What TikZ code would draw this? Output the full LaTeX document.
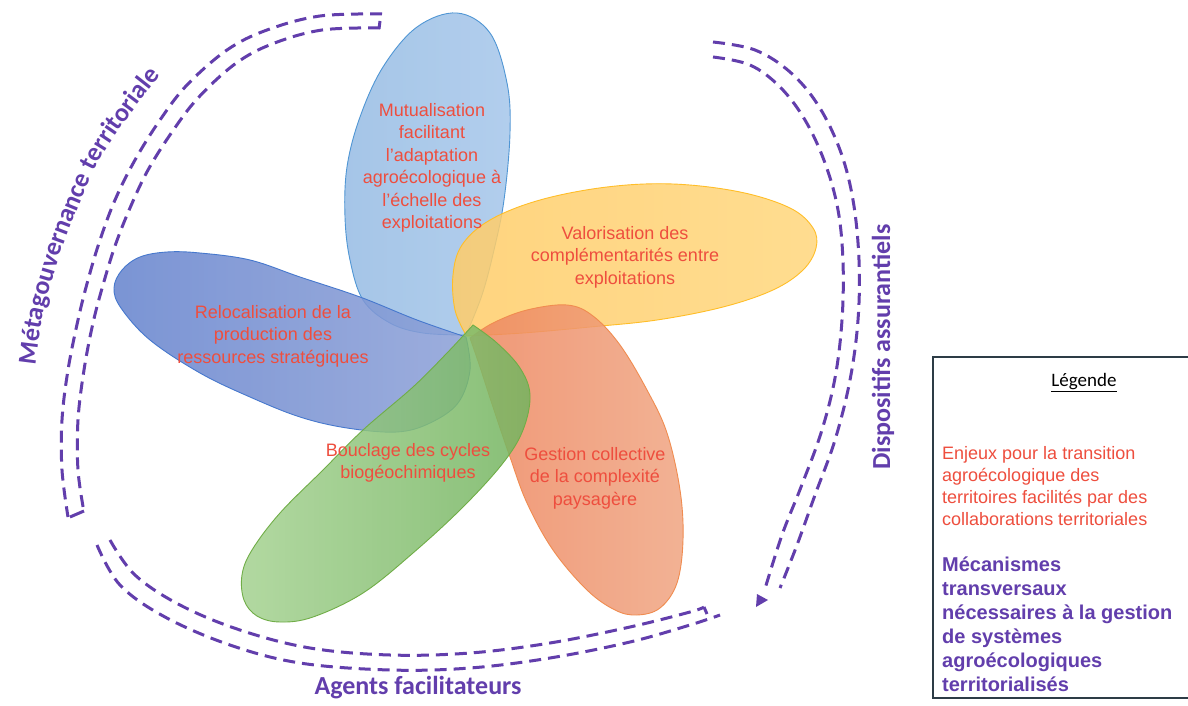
\documentclass[tikz,border=0pt]{standalone}
\usepackage{fontspec}
\setmainfont{Liberation Sans}
\newfontfamily\carl{Carlito}
\usetikzlibrary{decorations.text}
\definecolor{petaltxt}{RGB}{238,78,62}
\definecolor{purp}{RGB}{98,62,172}
\definecolor{bluefill}{RGB}{150,188,228}
\definecolor{bluefillB}{RGB}{165,198,234}
\definecolor{bluedraw}{RGB}{80,150,212}
\definecolor{dblueA}{RGB}{100,130,205}
\definecolor{dblueB}{RGB}{140,160,215}
\definecolor{dbluedraw}{RGB}{70,120,205}
\definecolor{yelA}{RGB}{255,205,105}
\definecolor{yelB}{RGB}{255,215,125}
\definecolor{yeldraw}{RGB}{255,190,40}
\definecolor{orA}{RGB}{238,135,95}
\definecolor{orB}{RGB}{240,165,130}
\definecolor{ordraw}{RGB}{240,140,80}
\definecolor{grA}{RGB}{165,210,145}
\definecolor{grB}{RGB}{115,180,95}
\definecolor{grdraw}{RGB}{112,173,71}
\definecolor{legdraw}{RGB}{45,60,70}
\tikzset{
  petal/.style={line width=0.9pt, fill opacity=0.85, draw opacity=1},
  dashline/.style={draw=purp, line width=3pt, dash pattern=on 12pt off 7pt},
  capline/.style={draw=purp, line width=3pt},
  ptext/.style={text=petaltxt, align=center, inner sep=0pt, font=\fontsize{18}{22.5}\selectfont},
  arclabel/.style={text=purp, inner sep=0pt, font=\carl\bfseries\fontsize{26}{30}\selectfont},
}
\begin{document}
\begin{tikzpicture}[x=1pt,y=-1pt]
\useasboundingbox (0,0) rectangle (1188,706);
\fill[white] (0,0) rectangle (1188,706);

% ---- petals ----
% blue top
\draw[petal, draw=bluedraw, left color=bluefill, right color=bluefillB]
  plot[smooth, tension=0.6] coordinates {(466,335) (423,333) (390,323) (363,300) (350,260) (345,217) (347,167) (360,117) (383,67) (417,27) (457,13) (490,33) (507,83) (510,133) (504,200) (494,250) (482,295) (466,335)} -- cycle;
% dark blue
\draw[petal, draw=dbluedraw, left color=dblueA, right color=dblueB]
  plot[smooth, tension=0.6] coordinates {(466,337) (417,320) (360,297) (300,277) (250,260) (200,253) (167,252) (140,257) (122,270) (114,288) (121,308) (150,340) (200,373) (250,397) (300,417) (347,428) (397,432) (430,423) (458,403) (470,370) (466,337)} -- cycle;
% yellow
\draw[petal, draw=yeldraw, left color=yelA, right color=yelB]
  plot[smooth, tension=0.6] coordinates {(466,335) (455,310) (453,275) (462,245) (490,220) (540,200) (607,187) (673,184) (740,192) (790,208) (813,228) (816,248) (803,270) (773,290) (723,307) (657,320) (590,327) (523,333) (466,336)} -- cycle;
% orange
\draw[petal, draw=ordraw, left color=orA, right color=orB]
  plot[smooth, tension=0.6] coordinates {(470,338) (493,323) (527,310) (567,305) (593,316) (620,345) (647,390) (667,433) (680,490) (683,540) (677,583) (660,608) (637,615) (615,610) (587,590) (553,550) (527,503) (510,457) (493,407) (480,367) (470,338)} -- cycle;
% green
\draw[petal, draw=grdraw, left color=grA, right color=grB]
  plot[smooth, tension=0.6] coordinates {(473,325) (497,343) (520,368) (530,395) (523,430) (503,463) (463,507) (413,553) (363,593) (313,617) (280,622) (257,616) (244,600) (242,575) (252,550) (280,513) (323,470) (363,430) (413,387) (447,353) (473,325)} -- cycle;

% ---- petal texts ----
\node[ptext] (tmut) at (432,168) {Mutualisation\\facilitant\\l'adaptation\\agroécologique à\\l'échelle des\\exploitations};
\node[ptext] (treloc) at (273,336) {Relocalisation de la\\production des\\ressources stratégiques};
\node[ptext] (tval) at (625,257) {Valorisation des\\complémentarités entre\\exploitations};
\node[ptext] (tbouc) at (408,463) {Bouclage des cycles\\biogéochimiques};
\node[ptext] (tgest) at (595,478) {Gestion collective\\de la complexité\\paysagère};

% ---- dashed arcs ----
% top-left
\draw[dashline] plot[smooth, tension=0.6] coordinates {(382,14) (320,16) (267,30) (227,50) (187,85) (160,120) (135,160) (115,200) (100,240) (88,280) (78,320) (68,370) (62,420) (62,470) (68,517)};
\draw[dashline] plot[smooth, tension=0.6] coordinates {(380,28) (322,30) (272,44) (235,64) (198,98) (172,132) (148,170) (130,208) (115,246) (103,285) (93,323) (84,370) (78,420) (78,470) (84,512)};
\coordinate (a1) at (380,21); \coordinate (a2) at (379,29);
\draw[capline] (a1) -- (a2);
\coordinate (b1) at (70,517); \coordinate (b2) at (84,511);
\draw[capline] (b1) -- (b2);
% right
\draw[dashline] plot[smooth, tension=0.6] coordinates {(713,42) (755,50) (790,72) (818,105) (840,150) (853,200) (859,260) (858,320) (850,380) (835,440) (815,495) (797,545) (780,588)};
\draw[dashline] plot[smooth, tension=0.6] coordinates {(713,57) (750,65) (780,87) (805,120) (825,163) (838,210) (843,262) (842,320) (835,378) (821,433) (801,487) (782,535) (764,592)};
\coordinate (c1) at (756,607); \coordinate (c2) at (757,594); \coordinate (c3) at (768,600);
\fill[purp] (c1) -- (c2) -- (c3) -- cycle;
% bottom
\draw[dashline] plot[smooth, tension=0.6] coordinates {(97,545) (120,585) (165,617) (230,645) (300,663) (390,670) (470,668) (550,658) (630,642) (690,625) (720,615)};
\draw[dashline] plot[smooth, tension=0.6] coordinates {(110,540) (135,575) (180,605) (240,630) (310,648) (390,655) (470,653) (550,643) (630,627) (690,612) (704,607)};
\coordinate (d1) at (704,607); \coordinate (d2) at (707,614);
\draw[capline] (d1) -- (d2);

% ---- arc labels ----
\path[decorate, decoration={text along path, text align=center,
  text={|\carl\bfseries\fontsize{26}{30}\selectfont\color{purp}|Métagouvernance territoriale}}]
  plot[smooth, tension=0.6] coordinates {(30,400) (35,368) (42,320) (55,270) (75,215) (100,160) (130,115) (165,70) (185,50)};
\node[arclabel, rotate=90] (ldisp) at (883,347) {Dispositifs assurantiels};
\node[arclabel] (lagents) at (418,688) {Agents facilitateurs};

% ---- legend ----
\draw[draw=legdraw, line width=1.6pt] (933,357) rectangle (1194,698);
\node[inner sep=0pt, font=\carl\fontsize{19}{23}\selectfont] (leg) at (1084,383) {\underline{Légende}};
\node[anchor=north west, align=left, inner sep=0pt, text=petaltxt, font=\fontsize{18}{22}\selectfont] (legA) at (942,446) {Enjeux pour la transition\\agroécologique des\\territoires facilités par des\\collaborations territoriales};
\node[anchor=north west, align=left, inner sep=0pt, text=purp, font=\bfseries\fontsize{20}{24}\selectfont] (legB) at (942,557) {Mécanismes\\transversaux\\nécessaires à la gestion\\de systèmes\\agroécologiques\\territorialisés};
\end{tikzpicture}
\end{document}
